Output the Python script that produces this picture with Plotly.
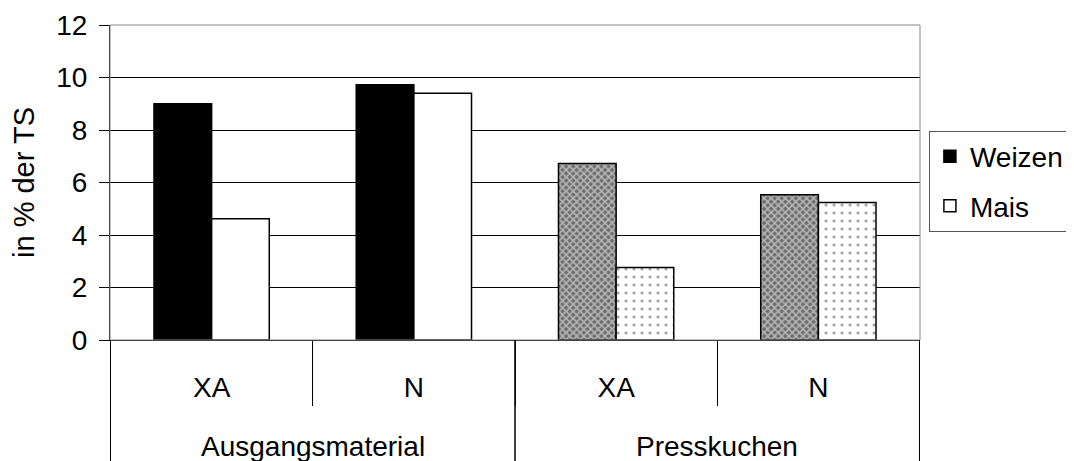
import plotly.graph_objects as go

# data
gruppen = ["Ausgangsmaterial", "Ausgangsmaterial", "Presskuchen", "Presskuchen"]
merkmal = ["XA", "N", "XA", "N"]
weizen = [9.0, 9.72, 6.72, 5.53]
mais = [4.62, 9.40, 2.76, 5.24]

font = "Liberation Sans, Arial, sans-serif"
keys = [g + " " + m for g, m in zip(gruppen, merkmal)]

fig = go.Figure()
fig.add_trace(go.Bar(
    x=keys, y=weizen, name="Weizen", legendgroup="w",
    marker=dict(color=["black", "black", "#6e6e6e", "#6e6e6e"],
                line=dict(color="black", width=1.5),
                pattern=dict(shape=["", "", "x", "x"], fgcolor="black",
                             size=5, solidity=0.5)),
))
fig.add_trace(go.Bar(
    x=keys, y=mais, name="Mais", legendgroup="m",
    marker=dict(color="white",
                line=dict(color="black", width=1.5),
                pattern=dict(shape=["", "", ".", "."], fgcolor="#444444",
                             bgcolor="white", size=8, solidity=0.12)),
))

# group labels and the long separators below the axis
annotations = []
shapes = [dict(type="rect", xref="paper", yref="paper", x0=0, x1=1, y0=0, y1=1,
               line=dict(color="#888888", width=1), layer="above")]
for g in dict.fromkeys(gruppen):
    idx = [i for i, v in enumerate(gruppen) if v == g]
    annotations.append(dict(x=sum(idx) / len(idx), y=-0.338, xref="x", yref="paper",
                            text=g, showarrow=False, yanchor="middle",
                            font=dict(size=28)))
    for edge in (min(idx) - 0.5, max(idx) + 0.5):
        shapes.append(dict(type="line", xref="x", yref="paper", x0=edge, x1=edge,
                           y0=0, y1=-0.45, line=dict(color="black", width=1)))

fig.update_layout(
    width=1066, height=453,
    margin=dict(l=102, r=154, t=17, b=121, autoexpand=False),
    paper_bgcolor="white", plot_bgcolor="white",
    font=dict(family=font, size=28, color="black"),
    barmode="group", bargap=0.43, bargroupgap=0,
    showlegend=True,
    legend=dict(x=1.011, y=0.665, xanchor="left", yanchor="top",
                bordercolor="#555555", borderwidth=1,
                font=dict(size=28), tracegroupgap=10,
                itemwidth=30),
    shapes=shapes, annotations=annotations,
)
fig.update_yaxes(
    range=[0, 12], dtick=2, showgrid=True, gridcolor="black", gridwidth=1,
    showline=True, linecolor="black", linewidth=1,
    ticks="outside", ticklen=10, tickcolor="black", ticklabelstandoff=6,
    title=dict(text="in % der TS", standoff=22, font=dict(size=29)),
    zeroline=False,
)
fig.update_xaxes(
    type="category", showline=True, linecolor="black", linewidth=1,
    tickvals=keys, ticktext=merkmal,
    ticks="outside", tickson="boundaries", ticklen=65, tickcolor="black",
    ticklabelstandoff=22,
    showgrid=False,
)

fig.write_html("out.html")
